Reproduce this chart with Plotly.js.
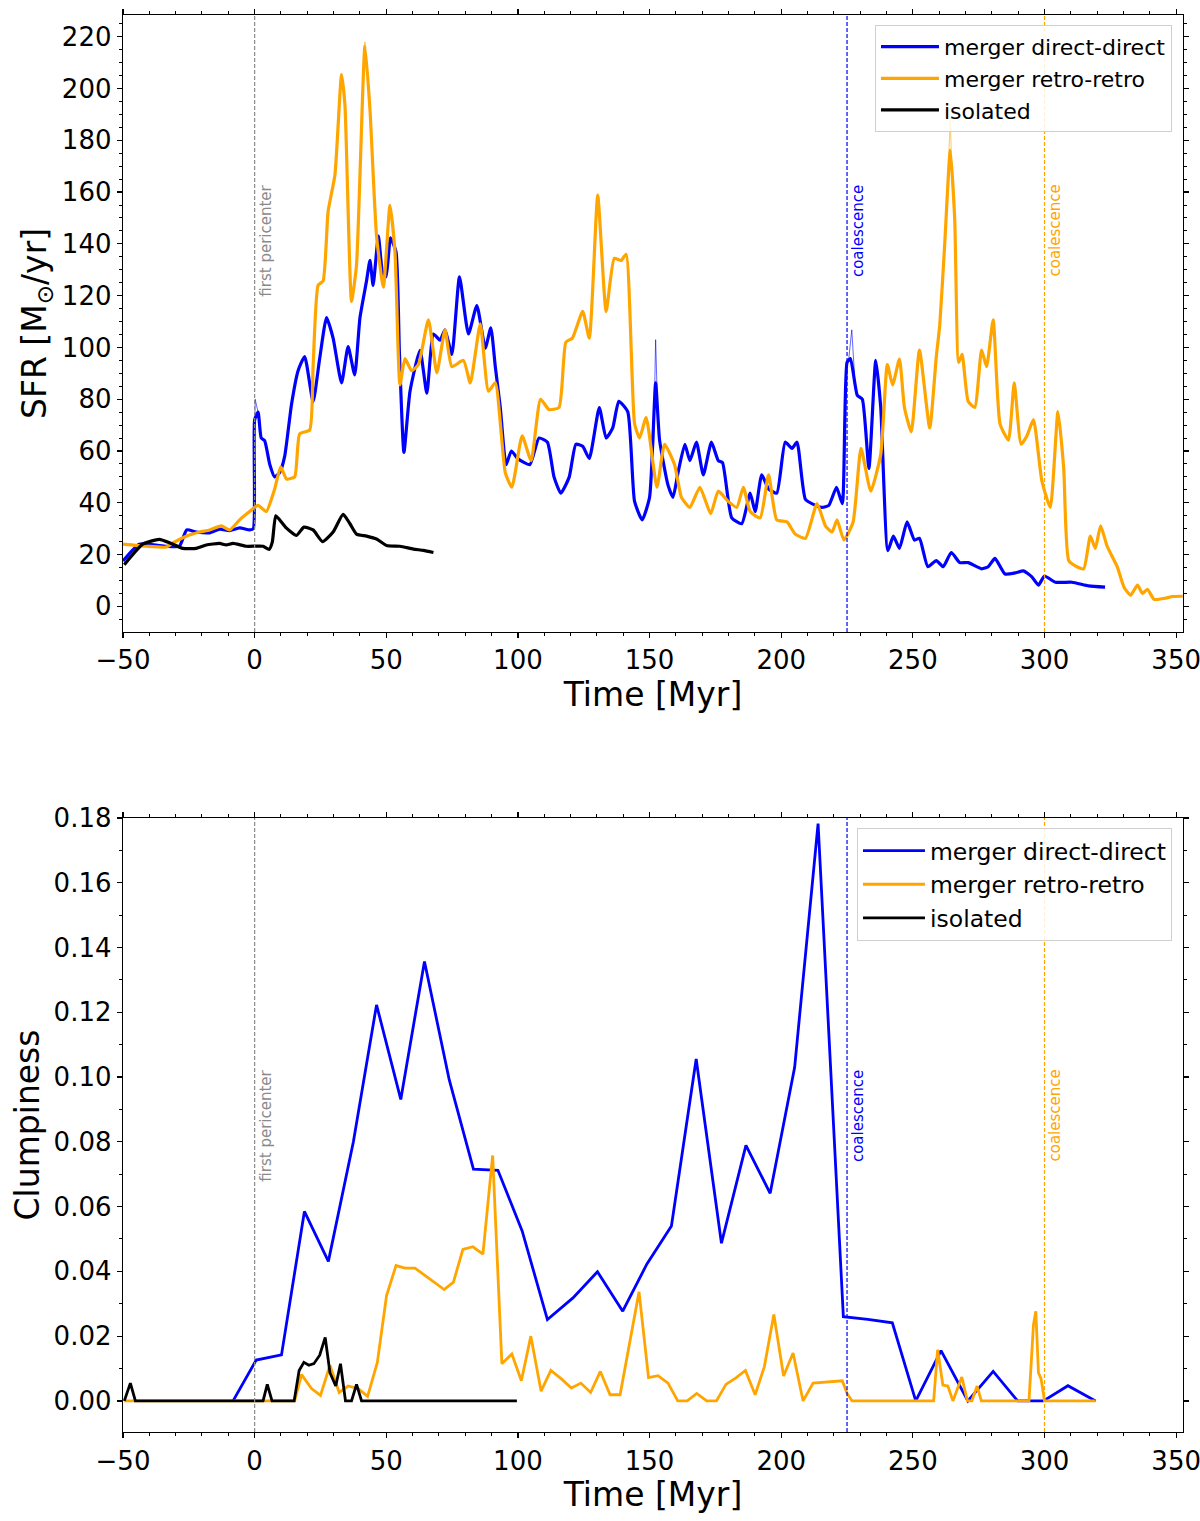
<!DOCTYPE html>
<html>
<head>
<meta charset="utf-8">
<script src="https://cdn.plot.ly/plotly-3.0.1.min.js"></script>
<style>
  html, body { margin: 0; padding: 0; background: #fff; }
  #chart { width: 1200px; height: 1521px; }
</style>
</head>
<body>
<div id="chart"></div>
<script>
// ── SFR (top panel), thick smoothed curves ───────────────────────────────────
const tSfrDirect = [-50, -43.8, -33.6, -28.6, -25.8, -22.2, -17.1, -13.3, -9.5, -5.7, -1.9, -0.5,
  0, 1.3, 2.5, 3.8, 5.7, 7.6, 9.5, 11.4, 14, 16.5, 19, 22.2, 24.7, 27.3, 29.8, 33, 35.5, 38, 40,
  42.5, 43.8, 45, 47, 48.6, 49.9, 51.6, 53.7, 55, 56.7, 59, 62.8, 65.4, 67.9, 70.4, 72.3, 74.9,
  77.8, 81.2, 84.4, 87.6, 89.7, 91.4, 93.3, 95.5, 97.5, 100, 104.5, 108, 111.2, 113.7, 116.3,
  119.5, 122, 124.6, 127.1, 130.9, 133.5, 136, 138.3, 141.7, 144.3, 147.2, 150, 152.3, 153.8,
  157, 158.9, 160.8, 163.4, 165.3, 167.8, 170.4, 173.5, 176.1, 177.7, 181.2, 185, 188.2, 190.1,
  192.6, 195.2, 198.3, 201.5, 204.1, 206, 209.2, 213, 215.5, 218.1, 221, 223.2, 225, 226.3,
  228.9, 230.8, 233.3, 235.9, 237.8, 240.5, 242.6, 244.9, 247.8, 250.6, 252.5, 255.7, 258.9,
  261.5, 264.6, 267.8, 271, 276.1, 278.6, 281.2, 285, 288.8, 292, 295.2, 297.7, 300, 304.1,
  310.4, 316.8, 323];
const sfrDirect = [17.5, 24, 23.2, 23.2, 29.5, 28.7, 28.4, 29.8, 29.2, 30.3, 29.5, 30,
  72, 75, 65, 64, 55, 50, 51.6, 57.9, 78, 91, 96.5, 79, 95.7, 111.5, 103.6, 86.3, 100.3, 89.4, 111.5,
  125.7, 133.6, 124, 143, 128.9, 127.3, 142.3, 136.8, 97.5, 59.5, 83, 98.9, 82.3, 105.2, 102.8, 106.8, 97.3,
  127.3, 105.2, 116.2, 99.7, 107.6, 92.6, 76.8, 54.7, 60, 57, 54.7, 65, 63.4, 50, 43.7,
  50, 62.6, 61.8, 57.1, 76.8, 65, 68.9, 79.2, 75.2, 40.5, 33.4, 42.1, 86.3, 64.2,
  46.8, 42.1, 51.6, 62.6, 56.3, 63.4, 50.8, 63.4, 56.3, 55.5, 34.2, 31.9, 43.7, 36.6,
  50.8, 45.3, 43.7, 63.4, 61, 63.4, 41.3, 39, 38.2, 39, 46, 39.7, 94.2, 95.7,
  81.5, 80, 53.2, 95, 76.8, 21.5, 27.1, 22.4, 32.6, 25.6, 26.3, 15.3, 17.7,
  15.3, 20.8, 16.9, 16.9, 14.5, 15.3, 18.5, 12.5, 12.9, 13.7, 11.4, 8.2, 11.7, 9.3,
  9.3, 7.9, 7.4];

const tSfrRetro = [-50, -41.2, -33.6, -30.5, -26, -20.9, -17.1, -12.7, -9.5, -5.7, -1.9, 1.3, 4.4,
  7.6, 9.9, 12.1, 15.2, 17.1, 20.9, 22.2, 24.1, 26, 27.9, 30.5, 33, 34.3, 36.8, 38.7, 41.9, 43.8,
  46.3, 48.9, 51.4, 53.3, 55.2, 57.1, 59.6, 62.2, 66, 69.2, 72.3, 74.9, 79.3, 81.9, 85.7, 88.8,
  91.4, 95.2, 97.7, 101.6, 105, 108.6, 111.8, 115.6, 118.2, 120.7, 124.6, 127.1, 130.3, 133.5,
  136.6, 139.2, 141.1, 144.3, 146.2, 148.7, 152.8, 155.7, 159.5, 162.1, 165.3, 169.1, 173.2,
  176.1, 179.9, 183.1, 185.6, 188.2, 192, 195.2, 198.3, 202.2, 205.3, 209.2, 213.6, 216.8,
  219.3, 221.2, 223.8, 227.3, 230.3, 234, 237.8, 240.3, 242.3, 244.9, 246.8, 249.4, 252.5,
  256.4, 258.9, 260.2, 262.1, 264.2, 265.9, 267.4, 268.7, 271, 273.5, 276.1, 278, 280.5,
  283.1, 286.3, 288.5, 291.1, 293.3, 295.8, 299, 302.2, 305.1, 307.3, 309.2, 312.3, 314.9,
  317.4, 319.3, 321.3, 323.8, 327.6, 330.2, 332.7, 335.3, 337.2, 339.1, 341.6, 346.1, 348.6,
  352.5];
const sfrRetro = [24, 23.2, 22.9, 24.8, 27.1, 28.7, 29.5, 31.1, 29.5, 33.4, 36.6, 39, 36.6,
  45.3, 53.9, 49.2, 50, 66.6, 68.1, 92.6, 124, 125.7, 152.5, 166.7, 205.4, 193.5, 117.8, 132, 216.4, 192,
  143, 123.3, 154.9, 136.8, 85.5, 95.7, 91, 93.4, 110.7, 90.2, 106.8, 92.6, 95, 86.3, 109.1, 83.1,
  86.3, 51.6, 46, 65.8, 56.3, 80, 76, 76.8, 102, 103.6, 113.9, 103.6, 158.8, 113.9,
  134.4, 133.6, 136, 70.5, 65, 72.9, 46, 62.6, 54.7, 42.1, 38.2, 46, 35.8,
  44.5, 40.5, 38.2, 46, 36.6, 34.2, 50.8, 33.4, 32.6, 27.9, 26.3, 39.7, 31.1,
  28.7, 33.4, 25.6, 32.6, 61, 44.5, 58.7, 93.4, 85.5, 95.5, 76.8, 67.4, 99,
  68.9, 96.5, 108.4, 140, 176.2, 149.4, 94.2, 97.3, 79.2, 76.8, 99, 92.6, 110.7,
  70.5, 64.2, 86.3, 62.6, 65.8, 72.1, 48.4, 38.2, 75.2, 53.2, 17.7, 15.3, 14.5,
  27.1, 22.4, 31.1, 23.2, 15.3, 7.4, 4.3, 8.2, 5, 6.6, 2.7, 3.2, 3.8,
  3.9];

const tSfrIso = [-49.5, -42.5, -36.2, -31.7, -27.3, -22.2, -18.4, -13.3, -10.8, -8.2, -3.2, 3.2,
  5.5, 6.7, 8, 9.5, 12, 15.9, 18.7, 22.2, 25.8, 29.8, 33.6, 36.2, 38.7, 42.5, 46.3, 50.1, 55.2,
  60.3, 64.1, 67.9];
const sfrIso = [16.1, 24, 25.9, 24.3, 22.4, 22.4, 23.7, 24.3, 23.7, 24.3, 23.2, 23.2,
  22, 24.8, 35, 33.4, 30.3, 27.4, 30.6, 29.5, 25, 28.7, 35.5, 31.9, 27.9, 27.1, 26, 23.5, 23.2,
  22.1, 21.6, 20.8];

// thin unsmoothed spikes poking out above the thick curves (null = gap)
const tRawDirect = [-0.5, 0.2, 1.3, null, 151.5, 152.3, 153.2, null, 225.6, 226.8, 227.8];
const rawDirect  = [30, 80, 75, null, 62, 103, 70, null, 95, 106.8, 90];
const tRawRetro  = [263.4, 264.2, 265.1, null, 41.2, 41.9, 42.6];
const rawRetro   = [168, 188.5, 158, null, 205, 218, 206];

// ── Clumpiness (bottom panel) ────────────────────────────────────────────────
const tClDirect = [-8.2, 0.6, 10.2, 18.9, 28, 37.5, 46.3, 55.5, 64.5, 73.9, 83.1, 92.4, 101.6,
  111.2, 120.9, 130.2, 139.8, 149, 158.3, 167.7, 177.3, 186.6, 195.8, 205.1, 214, 223.6, 232.9,
  242.2, 251.1, 260.7, 270.9, 280.5, 289.8, 299.6, 308.9, 319.4];
const clDirect = [0, 0.0126, 0.0142, 0.0585, 0.0431, 0.080, 0.1223, 0.0931, 0.1357, 0.0992, 0.0716, 0.0712, 0.0525,
  0.0251, 0.0318, 0.0399, 0.0277, 0.0423, 0.054, 0.1056, 0.0487, 0.0789, 0.0641, 0.103, 0.1783, 0.026, 0.0252,
  0.0241, 0, 0.0155, 0, 0.0091, 0, 0, 0.0047, 0];

const tClRetro = [-49.5, 15.2, 17.8, 21.6, 25, 28.6, 32.1, 35.5, 39.3, 42.9, 46.6, 50.1, 53.7,
  57.1, 60.9, 72, 75.5, 79.1, 82.9, 86.7, 90.4, 93.9, 97.7, 101.3, 104.9, 108.8, 112.5, 116.5,
  120.3, 123.9, 127.6, 131.3, 135, 138.8, 146, 149.6, 153.2, 157, 160.7, 164.3, 167.9, 171.7,
  175.4, 179, 182.8, 186.4, 190.1, 193.6, 197.2, 200.9, 204.5, 208.3, 212.1, 223.2, 225, 226.9,
  257.9, 259.4, 261.4, 263.3, 265.2, 268.6, 270.7, 272.4, 274.4, 276, 294.1, 295.8, 296.7,
  297.7, 298.7, 300, 319.4];
const clRetro = [0, 0, 0.0081, 0.0038, 0.0017, 0.011, 0.0026, 0.0046, 0.0038, 0.0014, 0.0119, 0.0325, 0.0418,
  0.041, 0.041, 0.0344, 0.0367, 0.0468, 0.0476, 0.0453, 0.0758, 0.0115, 0.0145, 0.0062, 0.02, 0.003, 0.0094, 0.0068,
  0.004, 0.0055, 0.0026, 0.0091, 0.0019, 0.0019, 0.0337, 0.0072, 0.0078, 0.0055, 0, 0, 0.0023, 0,
  0, 0.0051, 0.0071, 0.0094, 0.0019, 0.0106, 0.0267, 0.0077, 0.0148, 0, 0.0055, 0.0062, 0.0023, 0,
  0, 0.0158, 0.0049, 0.0046, 0, 0.0074, 0, 0, 0.0046, 0, 0, 0.0235, 0.0277,
  0.0087, 0.0068, 0, 0];

const tClIso = [-49.5, -47.2, -45.3, 3.2, 4.8, 6.6, 15, 16.9, 18.7, 20.6, 22.5, 24.7, 26.8, 28.6,
  30.8, 32.6, 34.5, 36.8, 38.7, 40.6, 99.6];
const clIso = [0, 0.0055, 0, 0, 0.0051, 0, 0, 0.0094, 0.0119, 0.011, 0.0115, 0.0141, 0.0196, 0.0087,
  0.0046, 0.0115, 0, 0, 0.0051, 0, 0];

// ── Event markers ────────────────────────────────────────────────────────────
const eventTimes  = [0, 225, 300];
const eventLabels = ['first pericenter', 'coalescence', 'coalescence'];
const eventColors = ['#8a8a8a', '#0000ff', '#ffa500'];

const seriesNames = ['merger direct-direct', 'merger retro-retro', 'isolated'];
const BLUE = '#0000ff', ORANGE = '#ffa500', BLACK = '#000000';
const FONT = 'DejaVu Sans, sans-serif';

// ── Traces ───────────────────────────────────────────────────────────────────
function line(x, y, name, color, width, xa, ya, legend, show, smooth) {
  return {
    type: 'scatter', mode: 'lines', x, y, name,
    line: smooth ? { color, width, shape: 'spline', smoothing: smooth } : { color, width },
    xaxis: xa, yaxis: ya, legend, showlegend: show, connectgaps: false,
    hoverinfo: 'skip',
  };
}

const traces = [
  line(tRawDirect, rawDirect, 'raw', 'rgba(0,0,255,0.6)', 1, 'x', 'y', 'legend', false),
  line(tSfrDirect, sfrDirect, seriesNames[0], BLUE, 3.2, 'x', 'y', 'legend', true, 0.5),
  line(tRawRetro, rawRetro, 'raw', 'rgba(255,165,0,0.6)', 1, 'x', 'y', 'legend', false),
  line(tSfrRetro, sfrRetro, seriesNames[1], ORANGE, 3.2, 'x', 'y', 'legend', true, 0.5),
  line(tSfrIso, sfrIso, seriesNames[2], BLACK, 3.2, 'x', 'y', 'legend', true, 0.5),

  line(tClDirect, clDirect, seriesNames[0], BLUE, 2.8, 'x2', 'y2', 'legend2', true),
  line(tClRetro, clRetro, seriesNames[1], ORANGE, 2.8, 'x2', 'y2', 'legend2', true),
  line(tClIso, clIso, seriesNames[2], BLACK, 2.8, 'x2', 'y2', 'legend2', true),
];

// ── Shapes & annotations for the event lines ─────────────────────────────────
const shapes = [];
const annotations = [];
[['x', 'y', 163.5], ['x2', 'y2', 0.1028]].forEach(([xa, ya, yText]) => {
  eventTimes.forEach((t, i) => {
    shapes.push({
      type: 'line', xref: xa, yref: ya + ' domain', x0: t, x1: t, y0: 0, y1: 1,
      line: { color: eventColors[i], width: 1.2, dash: '4px,2px' }, layer: 'above',
    });
    annotations.push({
      xref: xa, yref: ya, x: t, y: yText, text: eventLabels[i], showarrow: false,
      textangle: -90, xanchor: 'left', yanchor: 'top',
      font: { family: FONT, size: 15, color: eventColors[i] },
    });
  });
});

// ── Axes ─────────────────────────────────────────────────────────────────────
const tickFont = { family: FONT, size: 26, color: '#000' };
const titleFont = { family: FONT, size: 33, color: '#000' };

function xAxis(anchor) {
  return {
    anchor, domain: [0, 1], range: [-50, 352.6],
    tick0: 0, dtick: 50, ticks: 'outside', ticklen: 5, tickwidth: 1.2, tickcolor: '#000',
    minor: { dtick: 10, ticks: 'outside', ticklen: 3, tickwidth: 1, tickcolor: '#000' },
    showline: true, linecolor: '#000', linewidth: 1.3, mirror: 'allticks',
    showgrid: false, zeroline: false, tickfont: tickFont, ticklabeloverflow: 'allow',
    title: { text: 'Time [Myr]', font: titleFont, standoff: 4 },
  };
}

function legendBox(y, size, itemwidth) {
  return {
    x: 0.9896, y, xanchor: 'right', yanchor: 'top', itemwidth,
    bgcolor: 'rgba(255,255,255,0.85)', bordercolor: '#cfcfcf', borderwidth: 1,
    font: { family: FONT, size, color: '#000' },
  };
}

const layout = {
  width: 1200, height: 1521,
  margin: { l: 123, r: 17, t: 15, b: 89 },
  paper_bgcolor: '#fff', plot_bgcolor: '#fff',
  font: { family: FONT },
  xaxis: xAxis('y'),
  xaxis2: xAxis('y2'),
  yaxis: {
    anchor: 'x', domain: [0.5646, 1], range: [-9.9, 228.4],
    tick0: 0, dtick: 20, ticks: 'outside', ticklen: 5, tickwidth: 1.2, tickcolor: '#000',
    minor: { dtick: 5, ticks: 'outside', ticklen: 3, tickwidth: 1, tickcolor: '#000' },
    showline: true, linecolor: '#000', linewidth: 1.3, mirror: 'allticks',
    showgrid: false, zeroline: false, tickfont: tickFont,
    title: { text: 'SFR [M<sub>⊙</sub>/yr]', font: titleFont, standoff: 5 },
  },
  yaxis2: {
    anchor: 'x2', domain: [0, 0.4333], range: [-0.0096, 0.18],
    tick0: 0, dtick: 0.02, tickformat: '.2f',
    ticks: 'outside', ticklen: 5, tickwidth: 1.2, tickcolor: '#000',
    minor: { dtick: 0.01, ticks: 'outside', ticklen: 3, tickwidth: 1, tickcolor: '#000' },
    showline: true, linecolor: '#000', linewidth: 1.3, mirror: 'allticks',
    showgrid: false, zeroline: false, tickfont: tickFont,
    title: { text: 'Clumpiness', font: titleFont, standoff: 4 },
  },
  legend: legendBox(0.993, 22, 58),
  legend2: legendBox(0.4263, 23.5, 62),
  shapes, annotations,
};

Plotly.newPlot('chart', traces, layout, { displayModeBar: false, staticPlot: true });
</script>
</body>
</html>
